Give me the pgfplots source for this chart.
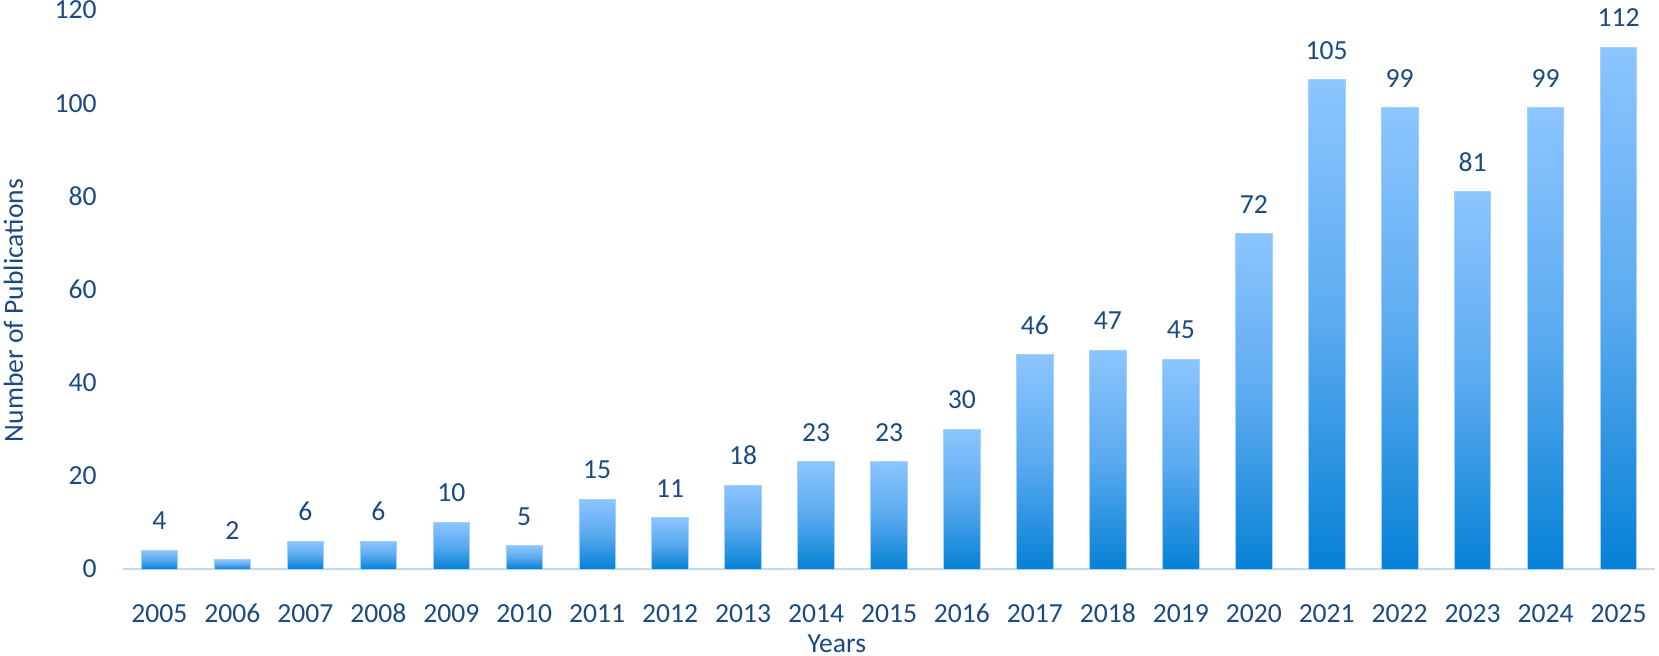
\documentclass[border=0pt]{standalone}
\usepackage{pgfplots}
\pgfplotsset{compat=1.18}
\usepackage{fontspec}
\setmainfont{Carlito}
\definecolor{txt}{HTML}{1B4A82}
\definecolor{bartop}{HTML}{8CC5FF}
\definecolor{barmid}{HTML}{5AAAEF}
\definecolor{barbot}{HTML}{0681D6}
\definecolor{axl}{HTML}{BFDCF4}
\pgfplotsset{mybar/.style={draw=bartop!80!white, line width=0.4pt, top color=bartop, bottom color=barbot, middle color=barmid}}
\begin{document}
\fontsize{13.8pt}{16pt}\selectfont
\begin{tikzpicture}
\begin{axis}[
  at={(0,0)}, anchor=south west,
  scale only axis,
  width=766pt, height=279.5pt,
  xmin=-0.5, xmax=20.5, ymin=0, ymax=120,
  ybar, bar width=18.25pt, bar shift=0pt,
  axis x line*=bottom, axis y line*=left,
  x axis line style={draw=axl, line width=1pt, -},
  y axis line style={draw=none},
  xtick={0,...,20},
  xticklabels={2005,2006,2007,2008,2009,2010,2011,2012,2013,2014,2015,2016,2017,2018,2019,2020,2021,2022,2023,2024,2025},
  xtick style={draw=none},
  ytick={0,20,...,120},
  ytick style={draw=none},
  xticklabel style={anchor=base, inner sep=0pt, yshift=-22.25pt, text=txt},
  /pgf/number format/assume math mode=true,
  yticklabel style={anchor=east, inner sep=0pt, xshift=-13pt, text=txt},
  xlabel={Years},
  xlabel style={at={(axis description cs:0.466,-0.1485)}, anchor=base, inner sep=0pt, text=txt},
  ylabel={Number of Publications},
  ylabel style={at={(axis description cs:-0.0653,0.4625)}, anchor=base, inner sep=0pt, text=txt},
  nodes near coords,
  every node near coord/.append style={anchor=south, inner sep=0pt, yshift=10pt, text=txt},
  clip=false,
]
\addplot[mybar] coordinates {(0,4)};
\addplot[mybar] coordinates {(1,2)};
\addplot[mybar] coordinates {(2,6)};
\addplot[mybar] coordinates {(3,6)};
\addplot[mybar] coordinates {(4,10)};
\addplot[mybar] coordinates {(5,5)};
\addplot[mybar] coordinates {(6,15)};
\addplot[mybar] coordinates {(7,11)};
\addplot[mybar] coordinates {(8,18)};
\addplot[mybar] coordinates {(9,23)};
\addplot[mybar] coordinates {(10,23)};
\addplot[mybar] coordinates {(11,30)};
\addplot[mybar] coordinates {(12,46)};
\addplot[mybar] coordinates {(13,47)};
\addplot[mybar] coordinates {(14,45)};
\addplot[mybar] coordinates {(15,72)};
\addplot[mybar] coordinates {(16,105)};
\addplot[mybar] coordinates {(17,99)};
\addplot[mybar] coordinates {(18,81)};
\addplot[mybar] coordinates {(19,99)};
\addplot[mybar] coordinates {(20,112)};
\end{axis}
\pgfresetboundingbox
\useasboundingbox (-61.5pt,-43.5pt) rectangle (768pt,284.5pt);
\end{tikzpicture}
\end{document}
